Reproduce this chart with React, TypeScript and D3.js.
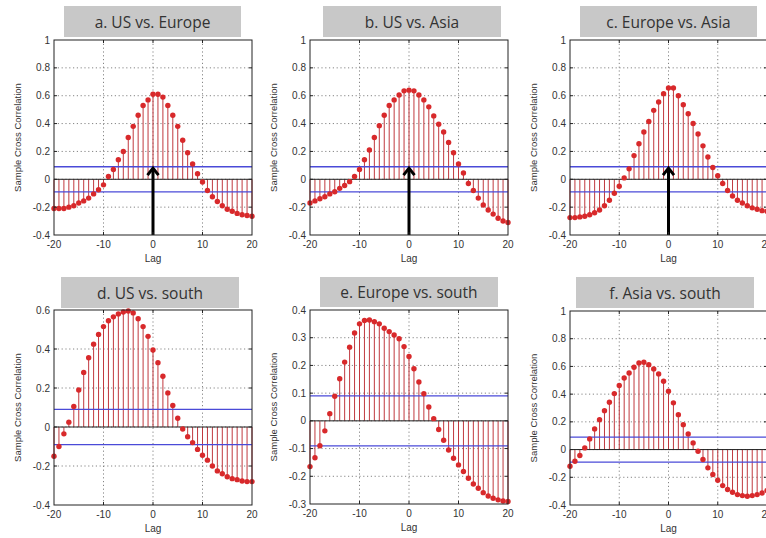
import React from 'react';
import * as d3 from 'd3';

// lags and labels
const lags = d3.range(-20, 21);
const xTicks = [-20, -10, 0, 10, 20];
const titles = [
  'a. US vs. Europe',
  'b. US vs. Asia',
  'c. Europe vs. Asia',
  'd. US vs. south',
  'e. Europe vs. south',
  'f. Asia vs. south',
];

// sample cross correlation, lag -20 .. 20
const usEurope = [
  -0.21, -0.21, -0.21, -0.2, -0.19, -0.17, -0.155, -0.135, -0.105, -0.075, -0.04,
  0.02, 0.07, 0.14, 0.2, 0.3, 0.38, 0.46, 0.53, 0.57,
  0.61, 0.61, 0.59, 0.53, 0.46, 0.38, 0.28, 0.19, 0.11, 0.04, -0.02,
  -0.08, -0.125, -0.16, -0.19, -0.215, -0.23, -0.245, -0.255, -0.26, -0.265,
];
const usAsia = [
  -0.17, -0.155, -0.14, -0.125, -0.105, -0.09, -0.065, -0.045, -0.017, 0.02, 0.07,
  0.14, 0.21, 0.3, 0.385, 0.46, 0.53, 0.57, 0.605, 0.635,
  0.64, 0.635, 0.605, 0.57, 0.52, 0.455, 0.395, 0.34, 0.265, 0.19, 0.11,
  0.045, -0.03, -0.08, -0.135, -0.185, -0.22, -0.25, -0.28, -0.3, -0.31,
];
const europeAsia = [
  -0.275, -0.275, -0.27, -0.265, -0.255, -0.24, -0.22, -0.19, -0.15, -0.1, -0.05,
  0.01, 0.075, 0.17, 0.255, 0.34, 0.415, 0.495, 0.555, 0.615,
  0.655, 0.655, 0.6, 0.535, 0.47, 0.4, 0.325, 0.24, 0.16, 0.085, 0.025,
  -0.03, -0.08, -0.12, -0.15, -0.17, -0.19, -0.205, -0.215, -0.225, -0.23,
];
const usSouth = [
  -0.15, -0.1, -0.035, 0.025, 0.105, 0.19, 0.28, 0.355, 0.425, 0.475, 0.515,
  0.545, 0.565, 0.58, 0.59, 0.595, 0.585, 0.555, 0.515, 0.465,
  0.395, 0.33, 0.26, 0.175, 0.11, 0.045, -0.01, -0.05, -0.08, -0.115, -0.145,
  -0.17, -0.2, -0.225, -0.24, -0.255, -0.265, -0.27, -0.277, -0.28, -0.28,
];
const europeSouth = [
  -0.165, -0.133, -0.09, -0.036, 0.026, 0.089, 0.152, 0.212, 0.266, 0.317, 0.35,
  0.362, 0.364, 0.358, 0.35, 0.334, 0.322, 0.31, 0.296, 0.268,
  0.232, 0.188, 0.14, 0.098, 0.05, 0.008, -0.031, -0.07, -0.105, -0.135, -0.159,
  -0.183, -0.207, -0.228, -0.243, -0.259, -0.271, -0.279, -0.285, -0.289, -0.291,
];
const asiaSouth = [
  -0.12, -0.084, -0.043, 0.012, 0.077, 0.149, 0.216, 0.281, 0.341, 0.404, 0.462,
  0.517, 0.553, 0.594, 0.625, 0.63, 0.613, 0.582, 0.546, 0.493,
  0.421, 0.337, 0.252, 0.18, 0.113, 0.048, -0.012, -0.072, -0.132, -0.18, -0.221,
  -0.26, -0.288, -0.308, -0.325, -0.332, -0.337, -0.332, -0.325, -0.313, -0.296,
];
const series = [usEurope, usAsia, europeAsia, usSouth, europeSouth, asiaSouth];

const bounds = [0.09, -0.09];
const arrowLag = 0;
const arrowTip = 0.08;
const hasArrow = [true, true, true, false, false, false];

const yDomains = [[-0.4, 1], [-0.4, 1], [-0.4, 1], [-0.4, 0.6], [-0.3, 0.4], [-0.4, 1]];
const yTicksFull = [-0.4, -0.2, 0, 0.2, 0.4, 0.6, 0.8, 1];
const yTicksD = [-0.4, -0.2, 0, 0.2, 0.4, 0.6];
const yTicksE = [-0.3, -0.2, -0.1, 0, 0.1, 0.2, 0.3, 0.4];
const yTicks = [yTicksFull, yTicksFull, yTicksFull, yTicksD, yTicksE, yTicksFull];

// layout of each panel (plot box + title box)
const frames = [
  { x0: 54, x1: 252, y0: 40, y1: 235, tx0: 64, tx1: 241, ty0: 6, ty1: 37 },
  { x0: 310, x1: 508, y0: 40, y1: 235, tx0: 323, tx1: 501, ty0: 6, ty1: 37 },
  { x0: 570, x1: 767, y0: 40, y1: 235, tx0: 580, tx1: 757, ty0: 6, ty1: 37 },
  { x0: 54, x1: 252, y0: 310, y1: 505, tx0: 61, tx1: 239, ty0: 277, ty1: 308 },
  { x0: 310, x1: 508, y0: 310, y1: 504, tx0: 320, tx1: 498, ty0: 277, ty1: 307 },
  { x0: 570, x1: 767, y0: 311, y1: 505, tx0: 576, tx1: 754, ty0: 277, ty1: 308 },
];

const fmt = (t: number) => String(+t.toFixed(1));
const labelFont = "'Liberation Sans', Arial, sans-serif";

function Panel({ i }: { i: number }) {
  const f = frames[i];
  const values = series[i];
  const domain = yDomains[i];
  const x = d3.scaleLinear().domain([-20, 20]).range([f.x0, f.x1]);
  const y = d3.scaleLinear().domain(domain).range([f.y1, f.y0]);
  const ticks = yTicks[i];
  const innerY = ticks.filter((t) => t > domain[0] && t < domain[1]);
  const innerX = xTicks.filter((t) => t > -20 && t < 20);
  const y0 = y(0);

  return (
    <g>
      {/* title box */}
      <rect x={f.tx0} y={f.ty0} width={f.tx1 - f.tx0} height={f.ty1 - f.ty0} fill="#c8c8c8" />
      <text x={(f.tx0 + f.tx1) / 2} y={f.ty1 - 9} textAnchor="middle"
        fontFamily="'Open Sans', 'Noto Sans', sans-serif" fontWeight={400} fontSize={15.5} fill="#333">{titles[i]}</text>

      <rect x={f.x0} y={f.y0} width={f.x1 - f.x0} height={f.y1 - f.y0} fill="#fff" />

      {/* grid */}
      {innerX.map((t) => (
        <line key={'gx' + t} x1={x(t)} x2={x(t)} y1={f.y0} y2={f.y1}
          stroke="#777" strokeWidth={0.9} strokeDasharray="1.2,2.6" />
      ))}
      {innerY.map((t) => (
        <line key={'gy' + t} x1={f.x0} x2={f.x1} y1={y(t)} y2={y(t)}
          stroke="#777" strokeWidth={0.9} strokeDasharray="1.2,2.6" />
      ))}

      {/* stems */}
      {values.map((v, k) => (
        <line key={'s' + k} x1={x(lags[k])} x2={x(lags[k])} y1={y0} y2={y(v)}
          stroke="#c0393f" strokeWidth={1} />
      ))}

      {/* zero line and bounds */}
      <line x1={f.x0} x2={f.x1} y1={y0} y2={y0} stroke="#222" strokeWidth={1} />
      {bounds.map((b) => (
        <line key={'b' + b} x1={f.x0} x2={f.x1} y1={y(b)} y2={y(b)} stroke="#4a4ad8" strokeWidth={1.3} />
      ))}

      {/* markers */}
      {values.map((v, k) => (
        <circle key={'m' + k} cx={x(lags[k])} cy={y(v)} r={2.7} fill="#d8292b" />
      ))}

      {hasArrow[i] && (
        <g stroke="#000" strokeWidth={3} fill="none">
          <line x1={x(arrowLag)} x2={x(arrowLag)} y1={f.y1} y2={y(arrowTip) + 1} />
          <path d={`M${x(arrowLag) - 5.5},${y(arrowTip) + 7} L${x(arrowLag)},${y(arrowTip)} L${x(arrowLag) + 5.5},${y(arrowTip) + 7}`} />
        </g>
      )}

      {/* frame and ticks */}
      <rect x={f.x0} y={f.y0} width={f.x1 - f.x0} height={f.y1 - f.y0} fill="none" stroke="#222" strokeWidth={1} />
      {innerX.map((t) => (
        <g key={'tx' + t} stroke="#222">
          <line x1={x(t)} x2={x(t)} y1={f.y1} y2={f.y1 - 3} />
          <line x1={x(t)} x2={x(t)} y1={f.y0} y2={f.y0 + 3} />
        </g>
      ))}
      {innerY.map((t) => (
        <g key={'ty' + t} stroke="#222">
          <line x1={f.x0} x2={f.x0 + 3} y1={y(t)} y2={y(t)} />
          <line x1={f.x1} x2={f.x1 - 3} y1={y(t)} y2={y(t)} />
        </g>
      ))}

      {/* tick labels */}
      {ticks.map((t) => (
        <text key={'ly' + t} x={f.x0 - 4} y={y(t) + 3.5} textAnchor="end"
          fontFamily={labelFont} fontSize={10} fill="#333">{fmt(t)}</text>
      ))}
      {xTicks.map((t) => (
        <text key={'lx' + t} x={x(t)} y={f.y1 + 13} textAnchor="middle"
          fontFamily={labelFont} fontSize={10} fill="#333">{fmt(t)}</text>
      ))}
      <text x={(f.x0 + f.x1) / 2} y={f.y1 + 27} textAnchor="middle"
        fontFamily={labelFont} fontSize={10} fill="#333">Lag</text>
      <text transform={`translate(${f.x0 - 33},${(f.y0 + f.y1) / 2}) rotate(-90)`} textAnchor="middle"
        fontFamily={labelFont} fontSize={9.5} fill="#333">Sample Cross Correlation</text>
    </g>
  );
}

export default function App() {
  return (
    <svg width={766} height={538} style={{ position: 'absolute', left: 0, top: 0, background: '#fff' }}>
      <rect width={766} height={538} fill="#fff" />
      {titles.map((_, i) => (
        <Panel key={i} i={i} />
      ))}
    </svg>
  );
}
